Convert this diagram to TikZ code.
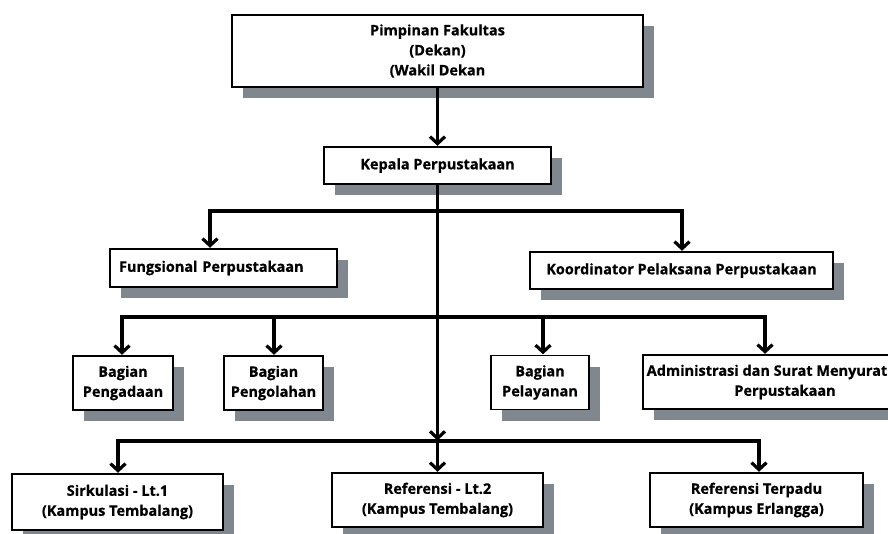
\documentclass[tikz,border=0pt]{standalone}
\usepackage{fontspec}
\setmainfont{Open Sans}[BoldFeatures={FakeBold=0.6}]
\usetikzlibrary{arrows.meta,shadows}
\definecolor{shadowgray}{RGB}{128,135,143}
\begin{document}
\begin{tikzpicture}[x=1pt,y=-1pt,
  box/.style={draw=black, line width=1.4pt, fill=white, align=center, inner sep=0pt,
    font=\bfseries\fontsize{14.5}{20}\selectfont,
    drop shadow={shadow xshift=11pt, shadow yshift=-11pt, fill=shadowgray, opacity=1}},
  conn/.style={line width=3.2pt, line join=miter},
  arr/.style={conn, -{Straight Barb[length=7pt,width=15pt]}, shorten >=0.5pt}]
\useasboundingbox (0,0) rectangle (888,533);
\clip (0,0) rectangle (888,533);
% boxes
\node[box, minimum width=411pt, minimum height=72pt] (top) at (437.5,51)
  {Pimpinan Fakultas\\(Dekan)\\(Wakil Dekan};
\node[box, minimum width=227pt, minimum height=37pt] (kep) at (437.5,165.5)
  {Kepala Perpustakaan};
\node[box, text width=209pt, inner xsep=9pt, align=left, minimum height=38pt] (fung) at (223.5,268)
  {Fungsional Perpustakaan};
\node[box, minimum width=303pt, minimum height=37pt] (koor) at (681.5,270.5)
  {Koordinator Pelaksana Perpustakaan};
\node[box, minimum width=100pt, minimum height=54pt] (peng) at (123,383)
  {Bagian\\Pengadaan};
\node[box, minimum width=99pt, minimum height=54pt] (pengo) at (273.5,383)
  {Bagian\\Pengolahan};
\node[box, minimum width=98pt, minimum height=54pt] (pel) at (540,382.5)
  {Bagian\\Pelayanan};
\node[box, minimum width=284pt, minimum height=54pt] (adm) at (785,382)
  {Administrasi dan Surat Menyurat\hspace*{36pt}\\Perpustakaan};
\node[box, minimum width=211pt, minimum height=56pt] (sirk) at (117.5,502)
  {Sirkulasi - Lt.1\\(Kampus Tembalang)};
\node[box, minimum width=211pt, minimum height=54pt] (ref2) at (437.5,500)
  {Referensi - Lt.2\\(Kampus Tembalang)};
\node[box, minimum width=213pt, minimum height=54pt] (ref3) at (756.5,500)
  {Referensi Terpadu\\(Kampus Erlangga)};
% junctions
\coordinate (j1) at (437.5,211);
\coordinate (b1l) at (210,211);
\coordinate (b1r) at (682,211);
\coordinate (j2) at (437.5,317);
\coordinate (b2l) at (122,317);
\coordinate (b2a) at (274,317);
\coordinate (b2b) at (543,317);
\coordinate (b2r) at (765,317);
\coordinate (j3) at (437.5,441);
\coordinate (b3l) at (118,441);
\coordinate (b3r) at (759,441);
% connectors
\draw[arr] (top.south) -- (kep.north);
\draw[arr] (kep.south) -- (j3);
\draw[arr] (j1) -- (b1l) -- (b1l |- fung.north);
\draw[arr] (j1) -- (b1r) -- (b1r |- koor.north);
\draw[arr] (j2) -- (b2l) -- (b2l |- peng.north);
\draw[arr] (j2) -- (b2r) -- (b2r |- adm.north);
\draw[arr] (b2a) -- (b2a |- pengo.north);
\draw[arr] (b2b) -- (b2b |- pel.north);
\draw[arr] (j3) -- (b3l) -- (b3l |- sirk.north);
\draw[arr] (j3) -- (b3r) -- (b3r |- ref3.north);
\draw[arr] (j3) -- (ref2.north);
\end{tikzpicture}
\end{document}
